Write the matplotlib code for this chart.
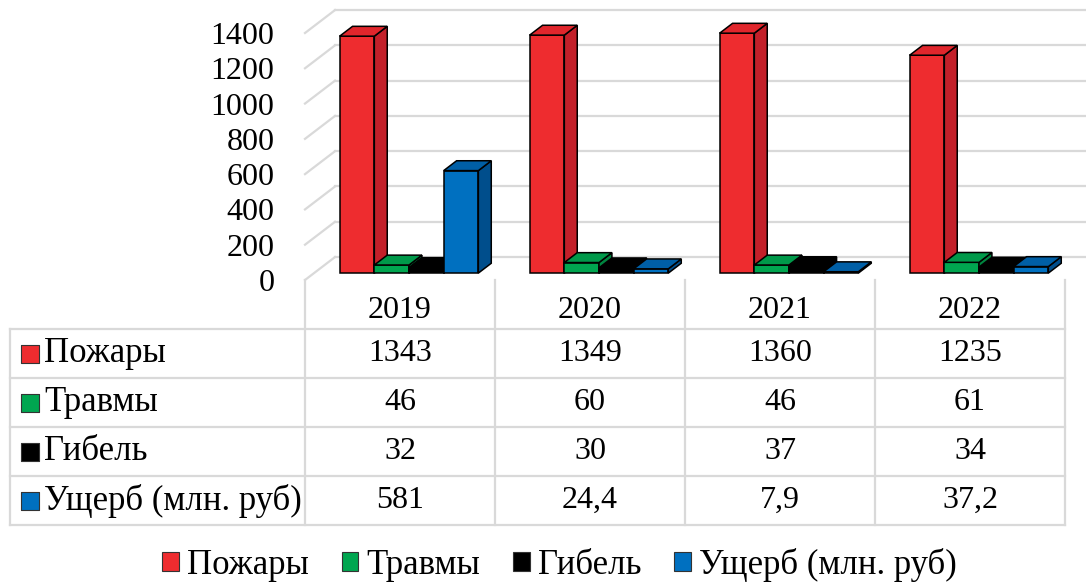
import matplotlib
matplotlib.use("Agg")
import matplotlib.pyplot as plt
from matplotlib.patches import Polygon, Patch

years = ["2019", "2020", "2021", "2022"]
series = ["Пожары", "Травмы", "Гибель", "Ущерб (млн. руб)"]
pozhary = [1343, 1349, 1360, 1235]
travmy = [46, 60, 46, 61]
gibel = [32, 30, 37, 34]
usherb = [581, 24.4, 7.9, 37.2]
usherb_text = ["581", "24,4", "7,9", "37,2"]
yticks = [0, 200, 400, 600, 800, 1000, 1200, 1400]

values = [pozhary, travmy, gibel, usherb]
cell_text = [[str(v) for v in pozhary], [str(v) for v in travmy],
             [str(v) for v in gibel], usherb_text]

# front / side / top colours per series
faces = [("#EE2C2F", "#C3202A", "#E0262C"),
         ("#00A650", "#00843F", "#00994A"),
         ("#000000", "#000000", "#000000"),
         ("#0070C0", "#004E8C", "#005FA6")]

FONT = "Liberation Serif"
FS = 23        # numbers
FS_LBL = 25    # cyrillic labels
GRID = "#D9D9D9"

W, H = 1086, 587
fig = plt.figure(figsize=(W / 100, H / 100), dpi=100)

# front plane of the chart: x in categories, y in values
ax = fig.add_axes([305 / W, (H - 280) / H, 760 / W, 247 / H])
ax.set_xlim(-0.5, 3.5)
ax.set_ylim(0, 1400)
for s in ax.spines.values():
    s.set_visible(False)
ax.set_xticks([])
ax.set_yticks(yticks)
ax.set_yticklabels([str(t) for t in yticks], fontfamily=FONT, fontsize=FS)
ax.tick_params(axis="y", length=0, pad=22)

# depth of the 3d box (category units, value units)
DX, DY = 0.158, 130
f0, f1 = 0.30, 0.73      # bar front / back as depth fractions
bw = 0.1825              # bar width

# back wall gridlines and left wall diagonals
for t in yticks:
    ax.plot([-0.5 + DX, 3.5 + DX + 0.2], [t + DY, t + DY], color=GRID,
            lw=1.6, clip_on=False, zorder=1)
    ax.plot([-0.5, -0.5 + DX], [t, t + DY], color=GRID, lw=1.6,
            clip_on=False, zorder=1)

for c in range(len(years)):
    for i, vals in enumerate(values):
        v = vals[c]
        x0 = c - 2 * bw + i * bw
        x1 = x0 + bw
        s0, s1 = DX * f0, DX * f1
        d0, d1 = DY * f0, DY * f1
        front, side, top = faces[i]
        kw = dict(edgecolor="black", lw=1.1, clip_on=False, zorder=2,
                  joinstyle="miter")
        ax.add_patch(Polygon([(x0 + s0, d0), (x1 + s0, d0),
                              (x1 + s0, v + d0), (x0 + s0, v + d0)],
                             facecolor=front, **kw))
        ax.add_patch(Polygon([(x1 + s0, d0), (x1 + s1, d1),
                              (x1 + s1, v + d1), (x1 + s0, v + d0)],
                             facecolor=side, **kw))
        ax.add_patch(Polygon([(x0 + s0, v + d0), (x1 + s0, v + d0),
                              (x1 + s1, v + d1), (x0 + s1, v + d1)],
                             facecolor=top, **kw))

# data table under the chart
tab = fig.add_axes([305 / W, (H - 525) / H, 760 / W, 245 / H])
tab.set_xlim(-0.5, 3.5)
tab.set_ylim(5, 0)
tab.axis("off")
LEFT = -0.5 - 295 / 190

for r in range(1, 6):
    tab.plot([LEFT, 3.5], [r, r], color=GRID, lw=1.6, clip_on=False)
for k in range(5):
    tab.plot([k - 0.5, k - 0.5], [0, 5], color=GRID, lw=1.6, clip_on=False)
tab.plot([LEFT, LEFT], [1, 5], color=GRID, lw=1.6, clip_on=False)

for c, y in enumerate(years):
    tab.text(c, 0.62, y, ha="center", va="center", fontfamily=FONT,
             fontsize=FS)
for r, name in enumerate(series):
    yy = r + 1.5
    tab.scatter([-0.5 - 275 / 190], [yy], marker="s", s=165,
                color=faces[r][0], edgecolors="#333333", linewidths=0.8,
                clip_on=False)
    tab.text(-0.5 - 261 / 190, yy, name, ha="left", va="center",
             fontfamily=FONT, fontsize=FS_LBL)
    for c in range(len(years)):
        tab.text(c, yy, cell_text[r][c], ha="center", va="center",
                 fontfamily=FONT, fontsize=FS)

handles = [Patch(facecolor=faces[i][0], edgecolor="#333333", lw=0.8)
           for i in range(len(series))]
fig.legend(handles, series, loc="lower center", bbox_to_anchor=(0.515, -0.045),
           ncol=4, frameon=False, prop={"family": FONT, "size": FS_LBL},
           handlelength=0.48, handleheight=0.48, handletextpad=0.23,
           columnspacing=0.95)

fig.savefig("out.png", dpi=100)
